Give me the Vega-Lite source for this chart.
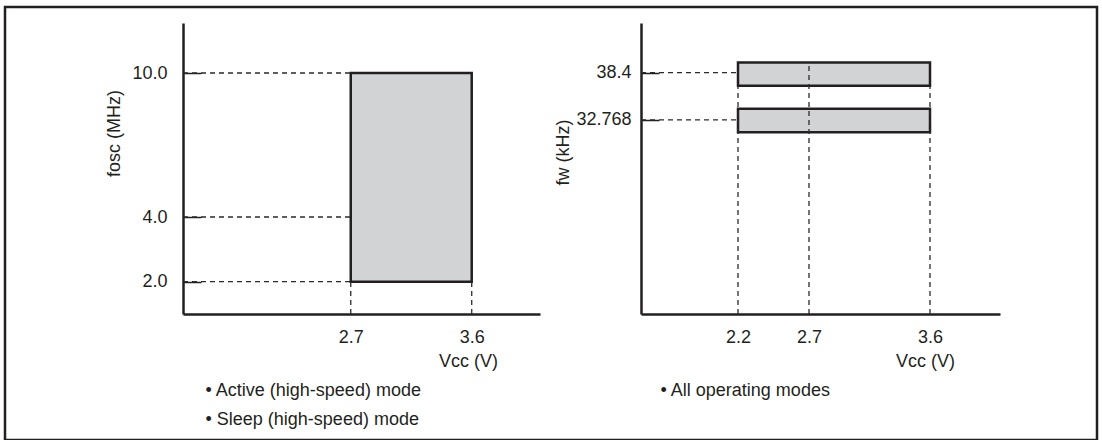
{
  "$schema": "https://vega.github.io/schema/vega-lite/v6.json",
  "width": 1092,
  "height": 433,
  "autosize": "none",
  "padding": {"left": 5, "top": 7, "right": 5, "bottom": 0},
  "background": "white",
  "config": {
    "view": {"stroke": "#231f20", "strokeWidth": 2.5},
    "font": "Liberation Sans",
    "axis": {
      "grid": false,
      "labelFont": "Liberation Sans",
      "titleFont": "Liberation Sans",
      "labelFontSize": 18,
      "titleFontSize": 18,
      "titleFontWeight": "normal",
      "labelColor": "#231f20",
      "titleColor": "#231f20",
      "domainColor": "#231f20",
      "domainWidth": 2.5,
      "tickColor": "#231f20"
    }
  },
  "datasets": {
    "left_box": [{"v1": 2.7, "v2": 3.6, "f1": 2.0, "f2": 10.0}],
    "left_h": [{"f": 10.0, "v0": 1.452, "v": 2.7}, {"f": 4.0, "v0": 1.452, "v": 2.7}, {"f": 2.0, "v0": 1.452, "v": 2.7}],
    "left_v": [{"v": 2.7, "f0": 1, "f": 2.0}, {"v": 3.6, "f0": 1, "f": 2.0}],
    "right_box": [
      {"fw": 38.4, "v1": 2.2, "v2": 3.6, "f1": 36.82, "f2": 39.59},
      {"fw": 32.768, "v1": 2.2, "v2": 3.6, "f1": 31.3, "f2": 34.11}
    ],
    "right_h": [{"f": 38.4, "v0": 1.517, "v": 2.2}, {"f": 32.768, "v0": 1.517, "v": 2.2}],
    "right_v": [{"v": 2.2, "f0": 9.67, "f": 36.82}, {"v": 2.7, "f0": 9.67, "f": 39.59}, {"v": 3.6, "f0": 9.67, "f": 36.82}]
  },
  "resolve": {"scale": {"x": "independent", "y": "independent"}},
  "layer": [
    {
      "data": {"name": "left_box"},
      "mark": {"type": "rect", "fill": "#d2d3d5", "stroke": "#231f20", "strokeWidth": 2.5},
      "encoding": {
        "x": {
          "field": "v1", "type": "quantitative",
          "scale": {"domain": [1.452, 4.108], "range": [178, 535], "nice": false, "zero": false},
          "axis": {
            "orient": "bottom", "offset": -126, "values": [2.7, 3.6], "format": ".1f",
            "ticks": false, "labelPadding": 28, "labelBaseline": "alphabetic",
            "title": "Vcc (V)", "titleX": 463, "titleY": 52, "titleAlign": "center", "titleBaseline": "alphabetic"
          }
        },
        "x2": {"field": "v2"},
        "y": {
          "field": "f1", "type": "quantitative",
          "scale": {"domain": [1, 2, 4, 10, 12.08], "range": [307, 274.7, 210, 66, 16], "nice": false, "zero": false},
          "axis": {
            "orient": "left", "offset": -178, "values": [2, 4, 10], "format": ".1f",
            "tickSize": -18, "tickWidth": 1.5, "labelPadding": 34,
            "title": "fosc (MHz)", "titleX": -69, "titleY": 126, "titleAngle": 270,
            "titleAlign": "center", "titleBaseline": "middle"
          }
        },
        "y2": {"field": "f2"}
      }
    },
    {
      "data": {"name": "left_h"},
      "mark": {"type": "rule", "strokeDash": [5, 4], "strokeWidth": 1.3, "color": "#2a2a2a"},
      "encoding": {
        "x": {
          "field": "v0", "type": "quantitative",
          "scale": {"domain": [1.452, 4.108], "range": [178, 535], "nice": false, "zero": false},
          "axis": {
            "orient": "bottom", "offset": -126, "domain": false, "labels": false, "ticks": false,
            "title": ["• Active (high-speed) mode", "• Sleep (high-speed) mode"],
            "titleX": 200, "titleY": 81, "titleAlign": "left", "titleBaseline": "alphabetic",
            "titleLineHeight": 29.5
          }
        },
        "x2": {"field": "v"},
        "y": {
          "field": "f", "type": "quantitative",
          "scale": {"domain": [1, 2, 4, 10, 12.08], "range": [307, 274.7, 210, 66, 16], "nice": false, "zero": false},
          "axis": null
        }
      }
    },
    {
      "data": {"name": "left_v"},
      "mark": {"type": "rule", "strokeDash": [5, 4], "strokeWidth": 1.3, "color": "#2a2a2a"},
      "encoding": {
        "x": {
          "field": "v", "type": "quantitative",
          "scale": {"domain": [1.452, 4.108], "range": [178, 535], "nice": false, "zero": false},
          "axis": null
        },
        "y": {
          "field": "f0", "type": "quantitative",
          "scale": {"domain": [1, 2, 4, 10, 12.08], "range": [307, 274.7, 210, 66, 16], "nice": false, "zero": false},
          "axis": null
        },
        "y2": {"field": "f"}
      }
    },
    {
      "data": {"name": "right_box"},
      "mark": {"type": "rect", "fill": "#d2d3d5", "stroke": "#231f20", "strokeWidth": 2.5},
      "encoding": {
        "x": {
          "field": "v1", "type": "quantitative",
          "scale": {"domain": [1.517, 2.2, 2.7, 3.6, 4.121], "range": [636, 733, 804, 925, 995], "nice": false, "zero": false},
          "axis": {
            "orient": "bottom", "offset": -126, "values": [2.2, 2.7, 3.6], "format": ".1f",
            "ticks": false, "labelPadding": 28, "labelBaseline": "alphabetic",
            "title": "Vcc (V)", "titleX": 920, "titleY": 52, "titleAlign": "center", "titleBaseline": "alphabetic"
          }
        },
        "x2": {"field": "v2"},
        "y": {
          "field": "f1", "type": "quantitative",
          "scale": {"domain": [9.67, 44.3], "range": [307, 16], "nice": false, "zero": false},
          "axis": {
            "orient": "left", "offset": -636, "values": [32.768, 38.4],
            "labelExpr": "datum.value > 35 ? '38.4' : '32.768'",
            "tickSize": -18, "tickWidth": 1.5, "labelPadding": 28,
            "title": "fw (kHz)", "titleX": -78, "titleY": 145, "titleAngle": 270,
            "titleAlign": "center", "titleBaseline": "middle"
          }
        },
        "y2": {"field": "f2"}
      }
    },
    {
      "data": {"name": "right_h"},
      "mark": {"type": "rule", "strokeDash": [5, 4], "strokeWidth": 1.3, "color": "#2a2a2a"},
      "encoding": {
        "x": {
          "field": "v0", "type": "quantitative",
          "scale": {"domain": [1.517, 2.2, 2.7, 3.6, 4.121], "range": [636, 733, 804, 925, 995], "nice": false, "zero": false},
          "axis": {
            "orient": "bottom", "offset": -126, "domain": false, "labels": false, "ticks": false,
            "title": "• All operating modes",
            "titleX": 655, "titleY": 81, "titleAlign": "left", "titleBaseline": "alphabetic"
          }
        },
        "x2": {"field": "v"},
        "y": {
          "field": "f", "type": "quantitative",
          "scale": {"domain": [9.67, 44.3], "range": [307, 16], "nice": false, "zero": false},
          "axis": null
        }
      }
    },
    {
      "data": {"name": "right_v"},
      "mark": {"type": "rule", "strokeDash": [5, 4], "strokeWidth": 1.3, "color": "#2a2a2a"},
      "encoding": {
        "x": {
          "field": "v", "type": "quantitative",
          "scale": {"domain": [1.517, 2.2, 2.7, 3.6, 4.121], "range": [636, 733, 804, 925, 995], "nice": false, "zero": false},
          "axis": null
        },
        "y": {
          "field": "f0", "type": "quantitative",
          "scale": {"domain": [9.67, 44.3], "range": [307, 16], "nice": false, "zero": false},
          "axis": null
        },
        "y2": {"field": "f"}
      }
    }
  ]
}
